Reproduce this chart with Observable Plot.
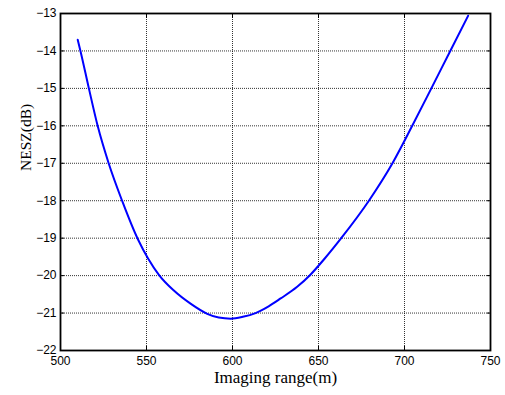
<!DOCTYPE html>
<html>
<head>
<meta charset="utf-8">
<script src="https://cdn.jsdelivr.net/npm/d3@7"></script>
<script src="https://cdn.jsdelivr.net/npm/@observablehq/plot@0.6"></script>
<style>
  html, body { margin: 0; padding: 0; background: #fff; }
</style>
</head>
<body>
<div id="chart"></div>
<script>
// Imaging range (m)
const rangeM = [510, 511.6, 516.5, 521.6, 528, 535.8, 545, 551, 557.2, 565.9, 575.6, 585.3, 592, 599, 606, 613.4, 621, 628, 637.6, 645, 653.5, 663.2, 679.3, 693, 704.5, 715.6, 726.6, 737];
// NESZ (dB)
const neszDb = [-13.7, -14, -15, -16, -17, -18, -19.03, -19.55, -19.98, -20.4, -20.75, -21.02, -21.12, -21.15, -21.1, -21, -20.82, -20.61, -20.3, -19.99, -19.55, -19, -18, -17, -16, -15, -14, -13.06];

const xTicks = [500, 550, 600, 650, 700, 750];
const yTicks = [-22, -21, -20, -19, -18, -17, -16, -15, -14, -13];
const xLabel = "Imaging range(m)";
const yLabel = "NESZ(dB)";

const data = rangeM.map((x, i) => ({x, y: neszDb[i]}));

const gridStyle = {stroke: "#000", strokeOpacity: 0.8, strokeDasharray: "1,1", strokeWidth: 1};

const chart = Plot.plot({
  width: 505,
  height: 395,
  marginLeft: 60,
  marginRight: 15,
  marginTop: 13,
  marginBottom: 45,
  style: {fontFamily: "'Liberation Sans', Arial, sans-serif", fontSize: "12px", background: "#fff", color: "#000"},
  x: {domain: [500, 750]},
  y: {domain: [-22, -13]},
  marks: [
    Plot.gridX(xTicks, gridStyle),
    Plot.gridY(yTicks, gridStyle),
    Plot.line(data, {x: "x", y: "y", stroke: "#0000ff", strokeWidth: 2, curve: "monotone-x"}),
    Plot.axisX(xTicks, {anchor: "bottom", tickSize: 0, tickPadding: 6, label: null, fontSize: 12}),
    Plot.axisY(yTicks, {anchor: "left", tickSize: 0, tickPadding: 4, label: null, fontSize: 12}),
    Plot.axisX(xTicks, {anchor: "bottom", tickSize: -4, text: null, label: null}),
    Plot.axisX(xTicks, {anchor: "top", tickSize: -4, text: null, label: null}),
    Plot.axisY(yTicks, {anchor: "left", tickSize: -4, text: null, label: null}),
    Plot.axisY(yTicks, {anchor: "right", tickSize: -4, text: null, label: null}),
    Plot.frame({stroke: "#000", strokeWidth: 1.8}),
    Plot.text([xLabel], {frameAnchor: "bottom", text: d => d, dy: 32, fontFamily: "'Liberation Serif', 'Times New Roman', serif", fontSize: 17, fill: "#000"}),
    Plot.text([yLabel], {frameAnchor: "left", text: d => d, rotate: -90, dx: -34, dy: -11, fontFamily: "'Liberation Serif', 'Times New Roman', serif", fontSize: 15.5, fill: "#000"})
  ]
});

document.getElementById("chart").appendChild(chart);
</script>
</body>
</html>
